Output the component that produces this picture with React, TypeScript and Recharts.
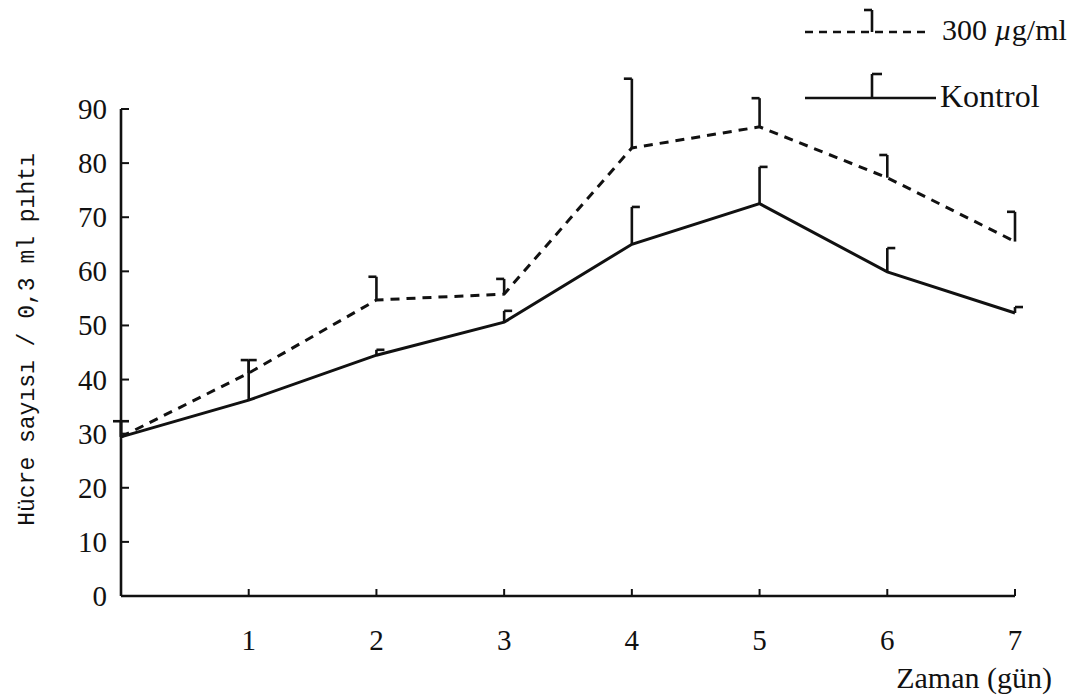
import React from 'react';
import { LineChart, Line, XAxis, YAxis, Legend } from 'recharts';

const days = [0, 1, 2, 3, 4, 5, 6, 7];
const dose300 = [29.4, 41.2, 54.7, 55.8, 82.8, 86.7, 77.3, 65.5];
const dose300Top = [32.3, 43.6, 59.0, 58.6, 95.6, 92.0, 81.5, 71.0];
const kontrol = [29.4, 36.2, 44.5, 50.6, 65.0, 72.5, 59.9, 52.3];
const kontrolTop = [32.3, 43.6, 45.5, 52.7, 71.9, 79.3, 64.3, 53.4];
const xTicks = [1, 2, 3, 4, 5, 6, 7];
const yTicks = [0, 10, 20, 30, 40, 50, 60, 70, 80, 90];
const seriesNames = ['300 µg/ml', 'Kontrol'];
const yTitle = 'Hücre sayısı / 0,3 ml pıhtı';
const xTitle = 'Zaman (gün)';

const data = days.map((d, i) => ({
  day: d,
  dose300: dose300[i],
  kontrol: kontrol[i],
}));

const SERIF = '"Liberation Serif", "Times New Roman", serif';
const INK = '#111';

function makeErrDot(tops: number[], side: number, name: string) {
  return (props: any) => {
    const { cx, cy, index, points } = props;
    if (cx == null || cy == null) return <g key={`${name}-e-${index}`} />;
    let yTop = cy;
    if (points && points.length > 1) {
      const p0 = points[0];
      const p1 = points.find((p: any) => p.value !== p0.value);
      if (p1) {
        const k = (p1.y - p0.y) / (p1.value - p0.value);
        yTop = p0.y + k * (tops[index] - p0.value);
      }
    }
    return (
      <g key={`${name}-e-${index}`}>
        <line x1={cx} y1={cy} x2={cx} y2={yTop} stroke={INK} strokeWidth={2.6} />
        <line x1={cx} y1={yTop} x2={cx + side * 8} y2={yTop} stroke={INK} strokeWidth={2.6} />
      </g>
    );
  };
}

const XTick = (props: any) => {
  const { x, y, payload } = props;
  return (
    <g>
      <line x1={x} y1={y} x2={x} y2={y - 7} stroke={INK} strokeWidth={2} />
      <text x={x} y={y + 54} textAnchor="middle" fontFamily={SERIF} fontSize={29} fill={INK}>
        {payload.value}
      </text>
    </g>
  );
};

const YTick = (props: any) => {
  const { x, y, payload } = props;
  return (
    <g>
      {payload.value !== 0 && (
        <line x1={x} y1={y} x2={x + 8} y2={y} stroke={INK} strokeWidth={2} />
      )}
      <text x={x - 14} y={y + 10} textAnchor="end" fontFamily={SERIF} fontSize={29} fill={INK}>
        {payload.value}
      </text>
    </g>
  );
};

const YTitle = (props: any) => {
  const vb = props.viewBox || { x: 0, y: 109, width: 121, height: 487 };
  const cx = vb.x + 28;
  const cy = vb.y + vb.height / 2 - 13;
  return (
    <text
      x={cx}
      y={cy}
      transform={`rotate(-90 ${cx} ${cy})`}
      textAnchor="middle"
      dominantBaseline="middle"
      fontFamily='"Liberation Mono", "DejaVu Sans Mono", monospace'
      fontSize={23}
      fill={INK}
    >
      {yTitle}
    </text>
  );
};

const XTitle = (props: any) => {
  const vb = props.viewBox || { x: 121, y: 596, width: 894, height: 60 };
  return (
    <text
      x={vb.x + vb.width + 37}
      y={vb.y + 92}
      textAnchor="end"
      fontFamily={SERIF}
      fontSize={30}
      fill={INK}
    >
      {xTitle}
    </text>
  );
};

const LegendContent = () => {
  return (
    <svg width={291} height={125} style={{ display: 'block' }}>
      <line x1={15} y1={32} x2={140} y2={32} stroke={INK} strokeWidth={2.6} strokeDasharray="8 6" />
      <line x1={82} y1={32} x2={82} y2={10} stroke={INK} strokeWidth={2.6} />
      <line x1={82} y1={10} x2={74} y2={10} stroke={INK} strokeWidth={2.6} />
      <text x={152} y={40} fontFamily={SERIF} fontSize={30} fill={INK}>
        300 <tspan fontStyle="italic">µ</tspan>g/ml
      </text>
      <line x1={15} y1={98} x2={146} y2={98} stroke={INK} strokeWidth={2.6} />
      <line x1={82} y1={98} x2={82} y2={74} stroke={INK} strokeWidth={2.6} />
      <line x1={82} y1={74} x2={92} y2={74} stroke={INK} strokeWidth={2.6} />
      <text x={150} y={107} fontFamily={SERIF} fontSize={32} fill={INK}>
        {seriesNames[1]}
      </text>
    </svg>
  );
};

export default function App() {
  return (
    <div style={{ position: 'absolute', left: 0, top: 0, width: 1081, height: 700, background: '#fff' }}>
      <LineChart
        width={1081}
        height={700}
        data={data}
        margin={{ top: 109, right: 66, bottom: 44, left: 0 }}
      >
        <XAxis
          dataKey="day"
          type="number"
          domain={[0, 7]}
          ticks={xTicks}
          tickSize={0}
          tickMargin={0}
          tick={<XTick />}
          height={60}
          axisLine={{ stroke: INK, strokeWidth: 2.6 }}
          label={{ content: <XTitle /> }}
        />
        <YAxis
          type="number"
          domain={[0, 90]}
          ticks={yTicks}
          tickSize={0}
          tickMargin={0}
          tick={<YTick />}
          width={121}
          axisLine={{ stroke: INK, strokeWidth: 2.6 }}
          label={{ content: <YTitle /> }}
        />
        <Legend
          layout="horizontal"
          verticalAlign="middle"
          align="center"
          content={<LegendContent />}
          wrapperStyle={{ position: 'absolute', left: 790, top: 0, width: 291, height: 125 }}
        />
        <Line
          dataKey="dose300"
          name={seriesNames[0]}
          stroke={INK}
          strokeWidth={3}
          strokeDasharray="9 7"
          type="linear"
          dot={makeErrDot(dose300Top, -1, 'd')}
          activeDot={false}
          isAnimationActive={false}
        />
        <Line
          dataKey="kontrol"
          name={seriesNames[1]}
          stroke={INK}
          strokeWidth={3}
          type="linear"
          dot={makeErrDot(kontrolTop, 1, 'k')}
          activeDot={false}
          isAnimationActive={false}
        />
      </LineChart>
    </div>
  );
}
